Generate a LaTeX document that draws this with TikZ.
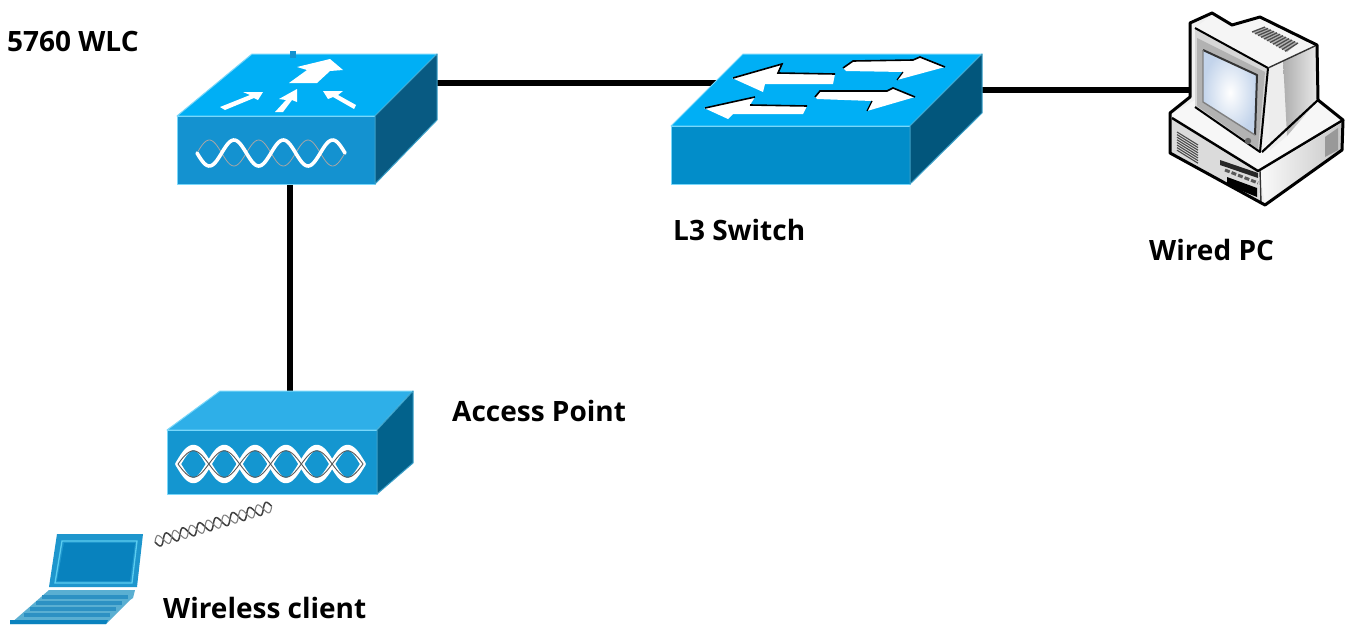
\documentclass[tikz,border=0pt]{standalone}
\usepackage{fontspec}
\setmainfont{Open Sans}
\definecolor{topC}{RGB}{0,175,245}
\definecolor{topEdge}{RGB}{120,215,250}
\definecolor{frontA}{RGB}{20,146,208}
\definecolor{frontB}{RGB}{2,141,201}
\definecolor{frontC}{RGB}{20,150,208}
\definecolor{sideA}{RGB}{8,90,130}
\definecolor{sideB}{RGB}{2,86,124}
\definecolor{sideC}{RGB}{2,98,140}
\definecolor{sideEdge}{RGB}{60,160,200}
\definecolor{apTop}{RGB}{46,175,232}
\definecolor{lapA}{RGB}{30,150,205}
\definecolor{lapB}{RGB}{8,130,190}
\definecolor{lapC}{RGB}{90,175,210}
\definecolor{lapD}{RGB}{45,145,195}
\definecolor{lapE}{RGB}{10,130,190}
\definecolor{lapF}{RGB}{90,205,240}
\definecolor{screenOut}{RGB}{195,212,235}
\begin{document}
\begin{tikzpicture}[x=1pt,y=-1pt,
  link/.style={line width=6pt,black},
  lbl/.style={font=\fontsize{28}{32}\selectfont\bfseries,inner sep=0pt,anchor=base west,text=black},
  edgeL/.style={draw=#1,line width=1pt,line join=round},
  helixW/.style={white,line width=3.6pt,line cap=round},
  helixG/.style={gray!70!white,line width=.8pt},
  flow/.style={fill=white,draw=none},
  arrowEdge/.style={black,line width=1.6pt},
  pcline/.style={draw=black,line width=3pt,line join=round},
  pcthin/.style={draw=black!80,line width=1.4pt,line join=round}]
\useasboundingbox (0,0) rectangle (1356,624);
\fill[white] (0,0) rectangle (1356,624);
% anchors of the connectors
\coordinate (wlcE) at (430,83);
\coordinate (wlcS) at (290,180);
\coordinate (swW) at (717,83);
\coordinate (swE) at (975,90);
\coordinate (apN) at (290,395);
\coordinate (pcW) at (1195,90);
\draw[link] (wlcE) -- (swW);
\draw[link] (swE) -- (pcW);
\draw[link] (wlcS) -- (apN);
% WLC
\filldraw[edgeL=topEdge,fill=topC] (252,54) -- (437,54) -- (375,116) -- (177,116) -- cycle;
\filldraw[edgeL=topEdge,fill=frontA] (177,116) rectangle (375,184);
\filldraw[edgeL=sideEdge,fill=sideA] (375,116) -- (437,54) -- (437,120) -- (375,184) -- cycle;
\draw[helixG] plot[domain=0:148,samples=90,smooth] ({197+\x},{153-13*sin(\x/148*1080)});
\draw[helixW] plot[domain=0:148,samples=90,smooth] ({197+\x},{153+13*sin(\x/148*1080)});
\fill[frontA] (290,51) rectangle (296,58);
\fill[flow] (289,83) -- (307,70) -- (297,67) -- (330,59) -- (343,70) -- (330,71) -- (317,83) -- cycle;
\fill[flow] (220,107) -- (250,95) -- (243,92) -- (263,92) -- (258,100) -- (254,98) -- (225,110) -- cycle;
\fill[flow] (275,112) -- (286,100) -- (279,99) -- (297,89) -- (297,102) -- (292,100) -- (283,112) -- cycle;
\fill[flow] (354,109) -- (333,97) -- (328,99) -- (323,91) -- (343,91) -- (338,95) -- (356,105) -- cycle;
% L3 switch
\filldraw[edgeL=topEdge,fill=topC] (743,54) -- (982,54) -- (910,126) -- (671,126) -- cycle;
\filldraw[edgeL=topEdge,fill=frontB] (671,126) rectangle (910,184);
\filldraw[edgeL=sideEdge,fill=sideB] (910,126) -- (982,54) -- (982,113) -- (910,184) -- cycle;
\fill[flow] (732,78) -- (782,64) -- (778,73) -- (835,74) -- (833,84) -- (765,84) -- (763,92) -- cycle;
\draw[arrowEdge] (733,78) -- (782,64) -- (778,73) -- (835,74);
\fill[flow] (843,68) -- (853,61) -- (913,60) -- (920,57) -- (945,67) -- (897,80) -- (903,72) -- (846,71) -- cycle;
\draw[arrowEdge] (843,68) -- (853,61) -- (913,60) -- (920,57) -- (945,67);
\draw[arrowEdge,line width=1.2pt] (897,80) -- (903,72);
\fill[flow] (704,108) -- (755,97) -- (750,105) -- (807,106) -- (803,114) -- (733,114) -- (728,119) -- cycle;
\draw[arrowEdge] (705,108) -- (755,97);
\draw[arrowEdge] (750,105) -- (807,106);
\fill[flow] (815,97) -- (820,91) -- (887,91) -- (893,88) -- (915,97) -- (867,111) -- (872,101) -- (817,99) -- cycle;
\draw[arrowEdge] (815,97) -- (820,91) -- (887,91) -- (893,88) -- (915,97);
\draw[arrowEdge,line width=1.2pt] (867,111) -- (872,101);
% Access point
\filldraw[edgeL=topEdge,fill=apTop] (220,391) -- (413,391) -- (377,430) -- (167,430) -- cycle;
\filldraw[edgeL=topEdge,fill=frontC] (167,430) rectangle (377,494);
\filldraw[edgeL=sideEdge,fill=sideC] (377,430) -- (413,391) -- (413,463) -- (377,494) -- cycle;
\foreach \s in {1,-1}
  \draw[white,line width=5.4pt,line cap=round] plot[domain=0:185,samples=120,smooth] ({178+\x},{464+\s*16.5*sin(\x/185*1080)});
\foreach \s in {1,-1}
  \draw[black!65,line width=.9pt] plot[domain=0:185,samples=120,smooth] ({178+\x},{464+\s*13.2*sin(\x/185*1080)});
% Air link
\coordinate (airA) at (155,542);
\begin{scope}[shift={(airA)},rotate=-17]
\end{scope}
\begin{scope}[shift={(airA)},rotate=17]
  \draw[black!75,line width=1.5pt] plot[domain=0:122,samples=110,smooth] (\x,{5.5*sin(\x/122*2520)});
  \draw[gray,line width=1.1pt] plot[domain=0:122,samples=110,smooth] (\x,{-5.5*sin(\x/122*2520)});
\end{scope}
% Laptop
\fill[lapA] (57,534) -- (143,534) -- (137,587) -- (49,587) -- cycle;
\draw[lapF,line width=1.3pt] (62,541) -- (137,541) -- (132,583) -- (55,583) -- cycle;
\fill[lapB] (64,543) -- (135,543) -- (130,581) -- (57,581) -- cycle;
\fill[lapC] (49,590) -- (135,590) -- (133,598) -- (130,600) -- (106,624) -- (10,624) -- cycle;
\foreach \y/\a/\b in {597/42/128,603/36/122,609/30/116,615/24/110}
  \draw[lapD,line width=3.4pt] (\a,\y) -- (\b,\y);
\fill[lapE] (10,620) -- (108,620) -- (106,624) -- (10,624) -- cycle;
% Wired PC
\fill[black!6] (1190,23) -- (1212,13) -- (1232,25) -- (1260,17) -- (1317,45) -- (1318,100) -- (1343,120) -- (1342,150) -- (1265,205) -- (1170,153) -- (1170,113) -- (1190,97) -- cycle;
\fill[black!14] (1170,118) -- (1258,170) -- (1260,203) -- (1170,153) -- cycle;
\shade[left color=black!2,right color=black!22] (1260,172) -- (1343,122) -- (1342,150) -- (1265,205) -- cycle;
\fill[black!3] (1170,115) -- (1195,100) -- (1260,150) -- (1320,100) -- (1343,120) -- (1260,170) -- cycle;
\fill[black!7] (1268,68) -- (1283,60) -- (1287,136) -- (1270,150) -- cycle;
\shade[left color=black!32,right color=black!8] (1283,60) -- (1317,45) -- (1318,100) -- (1287,136) -- cycle;
\fill[black!4] (1195,28) -- (1212,15) -- (1232,27) -- (1260,18) -- (1317,45) -- (1268,68) -- cycle;
\fill[black!16] (1195,28) -- (1268,68) -- (1260,152) -- (1195,107) -- cycle;
\fill[black!30] (1197,38) -- (1265,72) -- (1258,149) -- (1197,106) -- cycle;
\shade[inner color=white,outer color=screenOut] (1203,50) -- (1257,75) -- (1255,135) -- (1203,102) -- cycle;
\draw[pcthin,line width=2pt] (1203,50) -- (1257,75) -- (1255,135);
\draw[pcthin,draw=black!50] (1255,135) -- (1203,102) -- (1203,50);
\draw[pcline,line width=2pt] (1195,28) -- (1268,68) -- (1260,152) -- (1195,107);
\draw[pcline,line width=2.2pt] (1262,152) -- (1318,100);
\draw[pcthin] (1268,68) -- (1317,45);
\fill[black!60] (1248,141) circle (3.2);
% top and side vents
\fill[black!30] (1252,32) -- (1265,27) -- (1298,43) -- (1287,52) -- cycle;
\foreach \i in {0,...,11}
  \draw[black!70,line width=1.3pt] ({1265+\i*3},{27+\i*1.45}) -- ({1252+\i*3},{32+\i*1.75});
\foreach \i in {0,...,7}
  \draw[black!70,line width=1.1pt] (1177,{132+\i*2.6}) -- (1198,{145+\i*2.6});
\fill[black!40] (1325,137) -- (1338,128) -- (1338,150) -- (1325,157) -- cycle;
\draw[pcline,line width=2.4pt] (1172,118) -- (1258,171) -- (1343,120);
\draw[pcthin] (1260,171) -- (1261,203);
% drive bays
\fill[black!85] (1220,160) -- (1258,173) -- (1258,178) -- (1220,165) -- cycle;
\draw[black!65,line width=3pt,dash pattern=on 5pt off 2pt] (1225,170) -- (1258,183);
\fill[black] (1227,177) -- (1257,188) -- (1257,197) -- (1227,185) -- cycle;
\draw[pcline] (1190,23) -- (1212,13) -- (1232,25) -- (1260,17) -- (1317,45) -- (1318,100) -- (1343,120) -- (1342,150) -- (1265,205) -- (1170,153) -- (1170,113) -- (1190,97) -- cycle;
% Labels
\node[lbl] (lWlc) at (7,51) {5760 WLC};
\node[lbl] (lSw) at (673,240) {L3 Switch};
\node[lbl] (lPc) at (1149,260) {Wired PC};
\node[lbl] (lAp) at (452,421) {Access Point};
\node[lbl] (lCl) at (163,618) {Wireless client};
\end{tikzpicture}
\end{document}
